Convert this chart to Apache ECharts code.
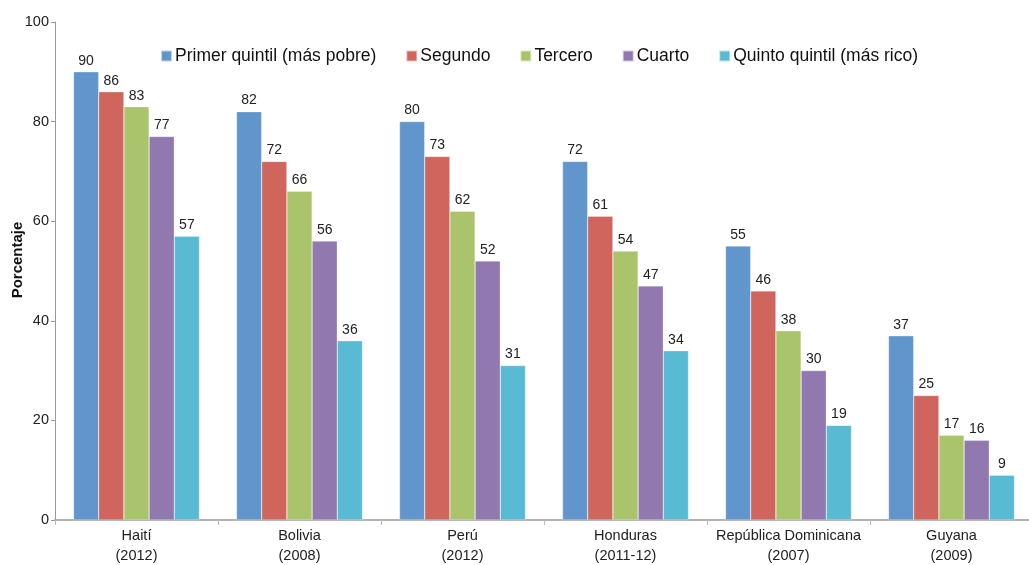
<!DOCTYPE html>
<html><head><meta charset="utf-8">
<script src="https://cdn.jsdelivr.net/npm/echarts@6/dist/echarts.min.js"></script>
<style>html,body{margin:0;padding:0;background:#fff;}#c{width:1029px;height:565px;}</style>
</head><body><div id="c"></div>
<script>
var categories = ["Haití\n(2012)", "Bolivia\n(2008)", "Perú\n(2012)", "Honduras\n(2011-12)", "República Dominicana\n(2007)", "Guyana\n(2009)"];
var seriesNames = ["Primer quintil (más pobre)", "Segundo", "Tercero", "Cuarto", "Quinto quintil (más rico)"];
var q1 = [90, 82, 80, 72, 55, 37];
var q2 = [86, 72, 73, 61, 46, 25];
var q3 = [83, 66, 62, 54, 38, 17];
var q4 = [77, 56, 52, 47, 30, 16];
var q5 = [57, 36, 31, 34, 19, 9];
var colors = ["#6096CB", "#D0655E", "#AAC46C", "#9179B0", "#58BAD3"];
var yTicks = [0, 20, 40, 60, 80, 100];

var FONT = "'Liberation Sans', Arial, sans-serif";
var chart = echarts.init(document.getElementById('c'));
var all = [q1, q2, q3, q4, q5];
var series = all.map(function (d, i) {
  return {
    name: seriesNames[i], type: 'bar', data: d,
    barGap: '0%', barCategoryGap: '22.7%',
    itemStyle: { color: colors[i], borderColor: 'rgba(255,255,255,0.6)', borderWidth: 0.5 },
    label: { show: true, position: 'top', distance: 4, color: '#222', fontFamily: FONT, fontSize: 14 }
  };
});
chart.setOption({
  animation: false,
  color: colors,
  textStyle: { fontFamily: FONT },
  legend: {
    top: 42, left: 155, itemWidth: 11, itemHeight: 11, itemGap: 29,
    icon: 'rect',
    textStyle: { fontFamily: FONT, fontSize: 17.5, color: '#111', padding: [0, 0, 0, -2] },
    data: seriesNames
  },
  grid: { left: 55, width: 978, top: 22, bottom: 45, containLabel: false, outerBoundsMode: 'none' },
  xAxis: {
    type: 'category', data: categories,
    axisLine: { lineStyle: { color: '#999', width: 1.5 } },
    axisTick: { show: true, length: 5, lineStyle: { color: '#bbb' } },
    axisLabel: { interval: 0, color: '#222', fontFamily: FONT, fontSize: 14.5, lineHeight: 20, margin: 6 }
  },
  yAxis: {
    type: 'value', min: 0, max: 100, interval: 20,
    name: 'Porcentaje', nameLocation: 'middle', nameGap: 30, nameRotate: 90, nameMoveOverlap: false,
    nameTextStyle: { fontFamily: FONT, fontSize: 15, fontWeight: 'bold', color: '#111', padding: [0, 0, 0, 22] },
    axisLine: { show: true, lineStyle: { color: '#999', width: 1 } },
    axisTick: { show: true, length: 4, lineStyle: { color: '#999' } },
    splitLine: { show: false },
    axisLabel: { color: '#222', fontFamily: FONT, fontSize: 14.5, margin: 6,
      formatter: function (v) { return yTicks.indexOf(v) >= 0 ? String(v) : ''; } }
  },
  series: series
});
</script></body></html>
